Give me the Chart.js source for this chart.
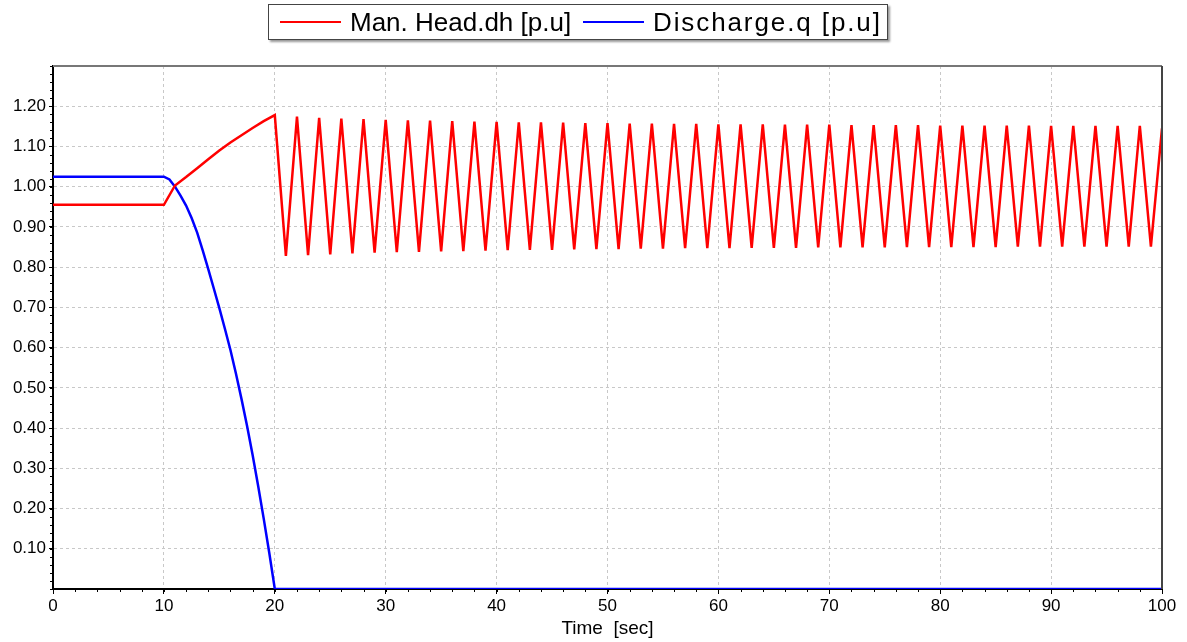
<!DOCTYPE html>
<html>
<head>
<meta charset="utf-8">
<script src="https://cdn.jsdelivr.net/npm/chart.js@4/dist/chart.umd.min.js"></script>
<style>
  html, body { margin: 0; padding: 0; background: #fff; }
  #wrap { position: relative; width: 1187px; height: 642px; font-family: "Liberation Sans", Arial, sans-serif; }
  #legend {
    position: absolute; left: 268px; top: 4px; width: 618px; height: 34px;
    border: 1px solid #444; background: #fff; box-shadow: 2px 2px 2px #999;
    font-size: 26px; color: #000; white-space: nowrap;
  }
  .item { position: absolute; top: 0; height: 34px; display: flex; align-items: center; }
  .swatch { display: inline-block; width: 61px; height: 0; border-top: 2px solid; margin-right: 9px; }
</style>
</head>
<body>
<div id="wrap">
  <canvas id="chart" width="1187" height="642"></canvas>
  <div id="legend"></div>
</div>
<script>
/* ---------- data ---------- */
const seriesNames = ["Man. Head.dh [p.u]", "Discharge.q [p.u]"];
const seriesColors = ["#ff0000", "#0000ff"];

// Man. Head: flat, ramp, then oscillation (peaks at even seconds, troughs at odd)
const headTime = [
  0, 10, 11, 12, 13, 14, 15, 16, 17, 18, 19, 20,
  21, 22, 23, 24, 25, 26, 27, 28, 29, 30,
  31, 32, 33, 34, 35, 36, 37, 38, 39, 40,
  41, 42, 43, 44, 45, 46, 47, 48, 49, 50,
  51, 52, 53, 54, 55, 56, 57, 58, 59, 60,
  61, 62, 63, 64, 65, 66, 67, 68, 69, 70,
  71, 72, 73, 74, 75, 76, 77, 78, 79, 80,
  81, 82, 83, 84, 85, 86, 87, 88, 89, 90,
  91, 92, 93, 94, 95, 96, 97, 98, 99, 100
];
const headValue = [
  0.955, 0.955, 1.003, 1.024, 1.046, 1.068, 1.09, 1.11, 1.128, 1.146, 1.163, 1.178,
  0.828, 1.174, 0.830, 1.171, 0.832, 1.169, 0.834, 1.168, 0.836, 1.166,
  0.837, 1.165, 0.838, 1.164, 0.839, 1.163, 0.840, 1.162, 0.841, 1.161,
  0.842, 1.160, 0.843, 1.160, 0.843, 1.159, 0.844, 1.158, 0.845, 1.158,
  0.845, 1.157, 0.846, 1.157, 0.846, 1.156, 0.847, 1.156, 0.847, 1.155,
  0.847, 1.155, 0.848, 1.155, 0.848, 1.154, 0.848, 1.154, 0.849, 1.154,
  0.849, 1.153, 0.849, 1.153, 0.849, 1.153, 0.850, 1.153, 0.850, 1.152,
  0.850, 1.152, 0.850, 1.152, 0.850, 1.152, 0.851, 1.152, 0.851, 1.151,
  0.851, 1.151, 0.851, 1.151, 0.851, 1.151, 0.851, 1.151, 0.851, 1.145
];

// Discharge: flat, falls to zero at 20 s, stays there
const flowTime = [0, 10, 10.5, 11, 11.5, 12, 12.5, 13, 13.5, 14, 14.5, 15, 15.5, 16, 16.5, 17, 17.5, 18, 18.5, 19, 19.5, 20, 100];
const flowValue = [1.025, 1.025, 1.018, 1.0, 0.978, 0.953, 0.922, 0.886, 0.842, 0.795, 0.747, 0.698, 0.647, 0.594, 0.535, 0.472, 0.405, 0.333, 0.256, 0.175, 0.09, 0.0, 0.0];

const xTicks = { min: 0, max: 100, step: 10, minor: 2 };
const yTicks = { min: 0, max: 1.3, step: 0.1, minor: 0.02 };

/* ---------- legend (html) ---------- */
const legendSpots = [{ left: 11, spacing: 0 }, { left: 314, spacing: 1.9 }];
const legend = document.getElementById("legend");
seriesNames.forEach((name, i) => {
  const item = document.createElement("span");
  item.className = "item";
  item.style.left = legendSpots[i].left + "px";
  item.innerHTML = `<span class="swatch" style="border-color:${seriesColors[i]}"></span>` +
    `<span style="letter-spacing:${legendSpots[i].spacing}px">${name}</span>`;
  legend.appendChild(item);
});

/* ---------- plugins ---------- */
const frameAndMinorTicks = {
  id: "frameAndMinorTicks",
  afterDraw(chart) {
    const { ctx, chartArea: a, scales } = chart;
    ctx.save();
    // gray top / right frame
    ctx.strokeStyle = "#777";
    ctx.lineWidth = 2;
    ctx.beginPath();
    ctx.moveTo(a.left, a.top);
    ctx.lineTo(a.right, a.top);
    ctx.stroke();
    ctx.strokeStyle = "#444";
    ctx.beginPath();
    ctx.moveTo(a.right, a.top);
    ctx.lineTo(a.right, a.bottom);
    ctx.stroke();

    // minor ticks
    ctx.strokeStyle = "#000";
    ctx.lineWidth = 1;
    ctx.beginPath();
    for (let v = xTicks.min; v <= xTicks.max + 1e-9; v += xTicks.minor) {
      const px = Math.round(scales.x.getPixelForValue(v)) + 0.5;
      ctx.moveTo(px, a.bottom);
      ctx.lineTo(px, a.bottom + 3);
    }
    for (let v = yTicks.min; v <= yTicks.max + 1e-9; v += yTicks.minor) {
      const py = Math.round(scales.y.getPixelForValue(v)) + 0.5;
      ctx.moveTo(a.left, py);
      ctx.lineTo(a.left - 3, py);
    }
    ctx.stroke();
    ctx.restore();
  }
};

/* ---------- chart ---------- */
const toPoints = (xs, ys) => xs.map((x, i) => ({ x: x, y: ys[i] }));
const tickFont = { family: "'Liberation Sans', Arial, sans-serif", size: 17 };

new Chart(document.getElementById("chart"), {
  type: "line",
  data: {
    datasets: [
      {
        label: seriesNames[0],
        data: toPoints(headTime, headValue),
        borderColor: seriesColors[0],
        borderWidth: 2.5,
        pointRadius: 0,
        tension: 0
      },
      {
        label: seriesNames[1],
        data: toPoints(flowTime, flowValue),
        borderColor: seriesColors[1],
        borderWidth: 2.5,
        pointRadius: 0,
        tension: 0
      }
    ]
  },
  options: {
    responsive: false,
    animation: false,
    layout: { padding: { top: 66, right: 25, left: 0, bottom: 0 } },
    plugins: { legend: { display: false }, tooltip: { enabled: false } },
    scales: {
      x: {
        type: "linear",
        min: xTicks.min,
        max: xTicks.max,
        afterFit: s => { s.height = 53; },
        ticks: { stepSize: xTicks.step, color: "#000", font: tickFont, padding: 2, maxRotation: 0 },
        grid: {
          color: c => (c.tick.value === xTicks.min || c.tick.value === xTicks.max) ? "rgba(0,0,0,0)" : "#c8c8c8",
          tickColor: "#000",
          tickLength: 5,
          lineWidth: 1
        },
        border: { display: true, color: "#000", width: 2, dash: [3, 3] },
        title: {
          display: true,
          text: "Time  [sec]",
          color: "#000",
          font: { family: "'Liberation Sans', Arial, sans-serif", size: 19 },
          padding: { top: 0, bottom: 2 }
        }
      },
      y: {
        min: yTicks.min,
        max: yTicks.max,
        afterFit: s => { s.width = 53; },
        ticks: {
          stepSize: yTicks.step,
          color: "#000",
          font: tickFont,
          padding: 3,
          callback: v => (v <= 0.001 || v >= 1.299) ? "" : Number(v).toFixed(2)
        },
        grid: {
          color: c => (c.tick.value <= 0.001 || c.tick.value >= 1.299) ? "rgba(0,0,0,0)" : "#c8c8c8",
          tickColor: c => (c.tick.value <= 0.001 || c.tick.value >= 1.299) ? "rgba(0,0,0,0)" : "#000",
          tickLength: 4,
          lineWidth: 1
        },
        border: { display: true, color: "#000", width: 2, dash: [3, 3] }
      }
    }
  },
  plugins: [frameAndMinorTicks]
});
</script>
</body>
</html>
